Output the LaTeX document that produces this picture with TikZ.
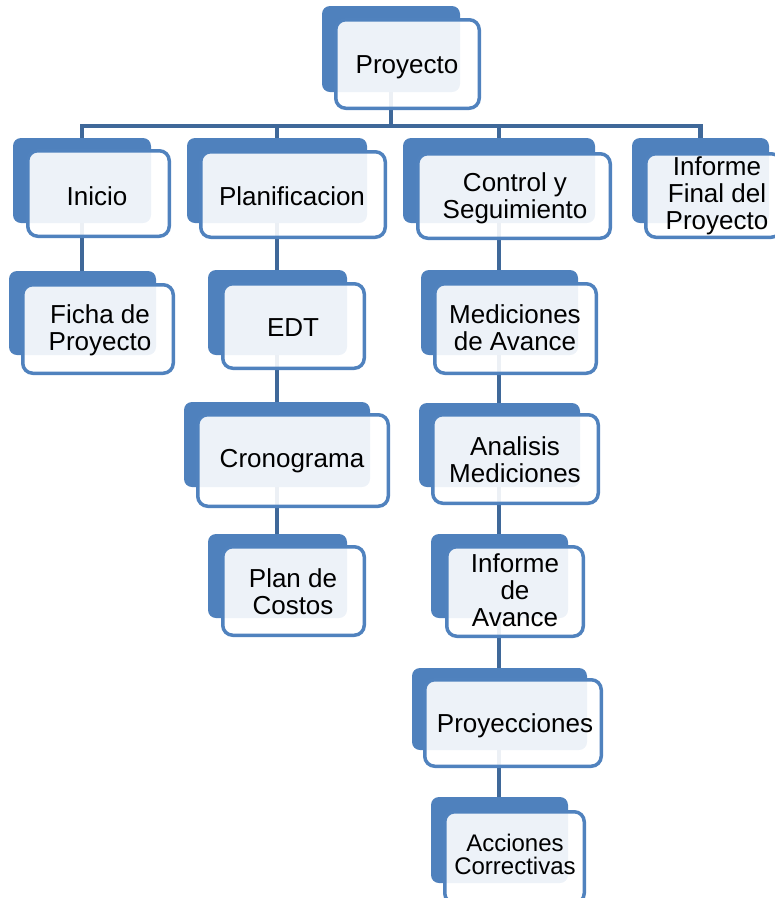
\documentclass[tikz,border=0pt]{standalone}
\usepackage{fontspec}
\setmainfont{Liberation Sans}
\definecolor{bkblue}{RGB}{79,129,189}
\definecolor{frblue}{RGB}{80,130,190}
\definecolor{connblue}{RGB}{63,104,153}
\pgfdeclarelayer{bg}
\pgfsetlayers{bg,main}
\tikzset{
  backbox/.style={draw=none, fill=bkblue, rounded corners=8pt, inner sep=0pt, rectangle},
  frontbox/.style={draw=frblue, line width=3.5pt, fill=white, fill opacity=0.9, draw opacity=1, rounded corners=10pt, inner sep=0pt, rectangle},
  lbl/.style={align=center, inner sep=0pt, text=black, font=\fontsize{26}{27}\selectfont},
  smalllbl/.style={align=center, inner sep=0pt, text=black, font=\fontsize{24}{23}\selectfont},
  conn/.style={draw=connblue, line width=4.5pt, line join=miter}
}
\newcommand\bk[5]{\node[backbox, minimum width={#4-#2}, minimum height={#5-#3}] (#1) at ({(#2+#4)/2},{(#3+#5)/2}) {};}
\newcommand\fr[5]{\node[frontbox, minimum width={#4-#2-3.5}, minimum height={#5-#3-3.5}] (#1) at ({(#2+#4)/2},{(#3+#5)/2}) {};}
\begin{document}
\begin{tikzpicture}[x=1pt,y=-1pt]
\useasboundingbox (0,0) rectangle (775,898);
% Proyecto
\bk{proj}{322}{6}{460}{92}
\fr{proj-f}{334}{18}{481}{110}
\node[lbl] (proj-t) at (407,67) {Proyecto};
% Level 1
\bk{ini}{13}{138}{151}{223}
\fr{ini-f}{26}{149}{171}{238}
\node[lbl] (ini-t) at (97,196) {Inicio};
\bk{plan}{187}{138}{367}{223}
\fr{plan-f}{199}{150}{387}{239}
\node[lbl] (plan-t) at (292,196) {Planificacion};
\bk{ctrl}{403}{138}{595}{223}
\fr{ctrl-f}{416}{152}{612}{240}
\node[lbl] (ctrl-t) at (515,198) {Control y\\Seguimiento};
\bk{fin}{632}{138}{769}{223}
\fr{fin-f}{644}{152}{783}{239}
\node[lbl] (fin-t) at (717,196) {Informe\\Final del\\Proyecto};
% Inicio branch
\bk{ficha}{9}{271}{156}{355}
\fr{ficha-f}{21}{283}{175}{375}
\node[lbl] (ficha-t) at (100,330) {Ficha de\\Proyecto};
% Planificacion branch
\bk{edt}{208}{270}{347}{355}
\fr{edt-f}{221}{282}{366}{370}
\node[lbl] (edt-t) at (293,328) {EDT};
\bk{crono}{184}{402}{370}{487}
\fr{crono-f}{196}{413}{390}{508}
\node[lbl] (crono-t) at (292,461) {Cronograma};
\bk{costos}{208}{534}{347}{618}
\fr{costos-f}{221}{545}{366}{637}
\node[lbl] (costos-t) at (293,592) {Plan de\\Costos};
% Control branch
\bk{med}{421}{270}{578}{355}
\fr{med-f}{433}{282}{598}{375}
\node[lbl] (med-t) at (515,328) {Mediciones\\de Avance};
\bk{ana}{419}{403}{580}{487}
\fr{ana-f}{431}{413}{600}{505}
\node[lbl] (ana-t) at (515,460) {Analisis\\Mediciones};
\bk{inf}{431}{534}{568}{618}
\fr{inf-f}{445}{545}{585}{638}
\node[lbl] (inf-t) at (515,590) {Informe\\de\\Avance};
\bk{proy}{412}{668}{587}{750}
\fr{proy-f}{423}{678}{603}{768}
\node[lbl] (proy-t) at (515,726) {Proyecciones};
\bk{acc}{431}{797}{568}{883}
\fr{acc-f}{443}{810}{586}{905}
\node[smalllbl] (acc-t) at (515,854) {Acciones\\Correctivas};
% connectors
\begin{pgfonlayer}{bg}
\coordinate (bar) at (0,126);
\draw[conn] (proj.center) -- (proj.center |- bar);
\draw[conn] (ini.center) -- (ini.center |- bar) -- (fin.center |- bar) -- (fin.center);
\draw[conn] (plan.center |- bar) -- (plan.center);
\draw[conn] (ctrl.center |- bar) -- (ctrl.center);
\draw[conn] (ini.center) -- (ini.center |- ficha.center);
\draw[conn] (plan.center) -- (plan.center |- costos.center);
\draw[conn] (ctrl.center) -- (ctrl.center |- acc.center);
\end{pgfonlayer}
\end{tikzpicture}
\end{document}
